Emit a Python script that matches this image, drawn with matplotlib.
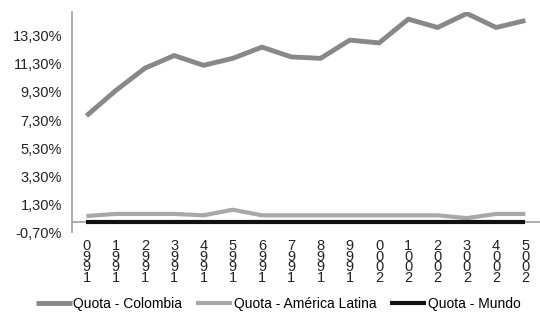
import matplotlib.pyplot as plt
import numpy as np

plt.rcParams['font.family'] = ['Liberation Sans', 'DejaVu Sans']

anos = ['1990', '1991', '1992', '1993', '1994', '1995', '1996', '1997',
        '1998', '1999', '2000', '2001', '2002', '2003', '2004', '2005']
colombia = [7.6, 9.4, 11.0, 11.9, 11.2, 11.7, 12.5, 11.8,
            11.7, 13.0, 12.8, 14.5, 13.9, 14.9, 13.9, 14.4]
america_latina = [0.45, 0.6, 0.6, 0.6, 0.5, 0.9, 0.5, 0.5,
                  0.5, 0.5, 0.5, 0.5, 0.5, 0.3, 0.6, 0.6]
mundo = [0.0] * 16
yticks = [-0.7, 1.3, 3.3, 5.3, 7.3, 9.3, 11.3, 13.3]

fig = plt.figure(figsize=(5.4, 3.18), dpi=100)
ax = fig.add_axes([0.133, 0.27, 0.867, 0.692])

x = np.arange(len(anos))
ax.plot(x, colombia, color='#888888', lw=3.5, label='Quota - Colombia', solid_capstyle='butt')
ax.plot(x, america_latina, color='#a8a8a8', lw=3, label='Quota - América Latina', solid_capstyle='butt')
ax.axhline(0, color='#a0a0a0', lw=1.2, zorder=1)
ax.plot(x, mundo, color='#111111', lw=3, label='Quota - Mundo', solid_capstyle='butt')

ax.set_xlim(-0.5, len(anos) - 0.5)
ax.set_ylim(-0.7, 15.0)
ax.set_yticks(yticks)
ax.set_yticklabels([('%.2f%%' % v).replace('.', ',') for v in yticks], fontsize=10.5, color='#222222')

# etiquetas dos anos com os digitos empilhados
ax.set_xticks(x)
ax.set_xticklabels(['\n'.join(a[::-1]) for a in anos], fontsize=10.5, color='#222222')
for lbl in ax.get_xticklabels():
    lbl.set_linespacing(0.68)
ax.tick_params(axis='both', length=0)
ax.tick_params(axis='x', pad=5)
ax.tick_params(axis='y', pad=7)

for s in ['top', 'right', 'bottom']:
    ax.spines[s].set_visible(False)
ax.spines['left'].set_color('#a0a0a0')
ax.spines['left'].set_linewidth(1.2)

fig.legend(loc='center', bbox_to_anchor=(0.515, 0.045), ncol=3, frameon=False,
           fontsize=10, handlelength=2.6, handletextpad=0.1, columnspacing=1.0)

fig.savefig('out.png', dpi=100)
